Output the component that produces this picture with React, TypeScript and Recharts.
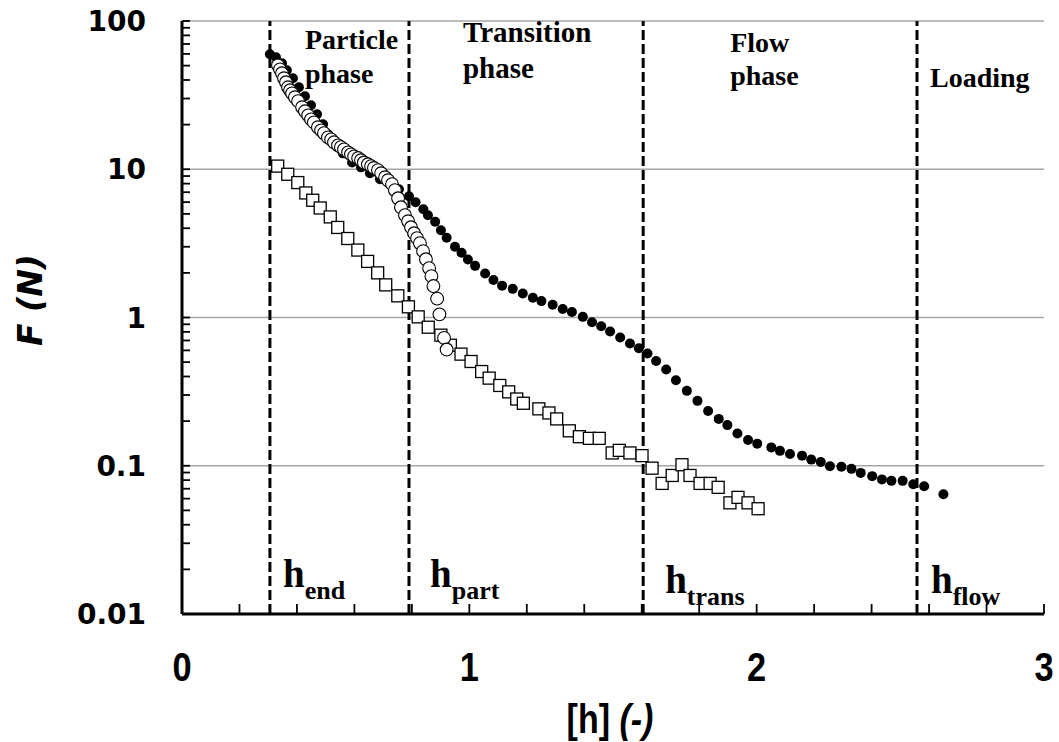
import {
  CartesianGrid,
  ReferenceLine,
  Scatter,
  ScatterChart,
  XAxis,
  YAxis,
} from "recharts";

// filled dots
const solidH = [
  0.306, 0.327, 0.348, 0.365, 0.386, 0.407, 0.428, 0.449, 0.47, 0.491, 0.508,
  0.526, 0.56, 0.592, 0.623, 0.654, 0.689, 0.724, 0.755, 0.79, 0.813, 0.84,
  0.856, 0.881, 0.901, 0.921, 0.95, 0.973, 0.995, 1.02, 1.055, 1.084, 1.114,
  1.151, 1.186, 1.221, 1.251, 1.29, 1.325, 1.357, 1.395, 1.427, 1.459, 1.49,
  1.525, 1.559, 1.59, 1.62, 1.65, 1.685, 1.719, 1.757, 1.794, 1.831, 1.868,
  1.898, 1.933, 1.97, 2.002, 2.051, 2.081, 2.116, 2.158, 2.19, 2.223, 2.255,
  2.295, 2.33, 2.362, 2.402, 2.436, 2.469, 2.508, 2.545, 2.583, 2.65,
];
const solidF = [
  59.6, 56.9, 51.9, 46.5, 41.1, 35.7, 31.1, 27.0, 23.5, 20.1, 17.2, 15.0, 12.8,
  11.1, 10.3, 9.4, 8.57, 7.93, 7.33, 6.58, 5.99, 5.37, 4.9, 4.43, 3.88, 3.45,
  3.0, 2.73, 2.46, 2.23, 1.98, 1.79, 1.64, 1.56, 1.45, 1.36, 1.29, 1.22, 1.14,
  1.09, 1.01, 0.929, 0.873, 0.805, 0.733, 0.668, 0.621, 0.572, 0.509, 0.446,
  0.377, 0.32, 0.274, 0.234, 0.207, 0.188, 0.165, 0.149, 0.141, 0.133, 0.126,
  0.12, 0.117, 0.11, 0.106, 0.0993, 0.0984, 0.0953, 0.0895, 0.0851, 0.0809,
  0.0791, 0.0791, 0.0751, 0.0728, 0.0643,
];

// open circles
const openH = [
  0.334, 0.341, 0.348, 0.355, 0.362, 0.369, 0.376, 0.383, 0.393, 0.404, 0.418,
  0.428, 0.439, 0.449, 0.459, 0.473, 0.484, 0.494, 0.508, 0.519, 0.529, 0.543,
  0.553, 0.564, 0.578, 0.588, 0.599, 0.613, 0.623, 0.633, 0.647, 0.658, 0.668,
  0.682, 0.693, 0.707, 0.717, 0.731, 0.741, 0.752, 0.762, 0.776, 0.787, 0.797,
  0.808, 0.818, 0.828, 0.839, 0.849, 0.86, 0.868, 0.875, 0.888, 0.896, 0.912,
  0.921,
];
const openF = [
  50.2, 47.2, 44.4, 41.1, 38.6, 35.7, 34.1, 32.5, 30.6, 28.8, 26.2, 24.6, 23.1,
  21.7, 20.7, 19.2, 18.3, 17.5, 16.4, 15.9, 15.2, 14.5, 14.1, 13.6, 13.0, 12.6,
  12.2, 11.9, 11.5, 11.1, 10.8, 10.5, 10.2, 9.85, 9.4, 8.83, 8.43, 7.93, 7.22,
  6.37, 5.54, 4.9, 4.46, 4.06, 3.7, 3.43, 3.17, 2.8, 2.47, 2.15, 1.9, 1.63,
  1.34, 1.05, 0.728, 0.608,
];

// open squares
const squareH = [
  0.333, 0.368, 0.403, 0.431, 0.455, 0.481, 0.516, 0.542, 0.577, 0.612, 0.646,
  0.681, 0.709, 0.751, 0.788, 0.822, 0.857, 0.901, 0.934, 0.971, 1.006, 1.043,
  1.069, 1.106, 1.137, 1.165, 1.188, 1.242, 1.277, 1.304, 1.348, 1.383, 1.418,
  1.452, 1.497, 1.522, 1.559, 1.601, 1.636, 1.671, 1.706, 1.74, 1.768, 1.803,
  1.838, 1.866, 1.907, 1.935, 1.97, 2.005,
];
const squareF = [
  10.5, 9.25, 8.13, 6.92, 6.18, 5.48, 4.77, 4.05, 3.41, 2.85, 2.39, 2.0, 1.66,
  1.4, 1.18, 1.01, 0.86, 0.76, 0.65, 0.566, 0.505, 0.432, 0.39, 0.348, 0.315,
  0.282, 0.264, 0.242, 0.227, 0.207, 0.172, 0.157, 0.153, 0.153, 0.122, 0.127,
  0.122, 0.117, 0.0963, 0.076, 0.086, 0.1016, 0.086, 0.076, 0.076, 0.0715,
  0.0562, 0.0612, 0.0562, 0.0513,
];

const boundaryH = [0.306, 0.79, 1.605, 2.558];
const boundaryNames = ["end", "part", "trans", "flow"];
const phaseNames = [
  ["Particle", "phase"],
  ["Transition", "phase"],
  ["Flow", "phase"],
  ["Loading"],
];

const xTicks = [0, 1, 2, 3];
const xMinorTicks = [
  0, 0.2, 0.4, 0.6, 0.8, 1, 1.2, 1.4, 1.6, 1.8, 2, 2.2, 2.4, 2.6, 2.8, 3,
];
const yTicks = [0.01, 0.1, 1, 10, 100];
const yMinorTicks = [
  0.01, 0.02, 0.03, 0.04, 0.05, 0.06, 0.07, 0.08, 0.09, 0.1, 0.2, 0.3, 0.4,
  0.5, 0.6, 0.7, 0.8, 0.9, 1, 2, 3, 4, 5, 6, 7, 8, 9, 10, 20, 30, 40, 50, 60,
  70, 80, 90, 100,
];

const toPoints = (hs: number[], fs: number[]) =>
  hs.map((h, i) => ({ h, f: fs[i] }));

const solidPts = toPoints(solidH, solidF);
const openPts = toPoints(openH, openF);
const squarePts = toPoints(squareH, squareF);

const SERIF = "'Liberation Serif', 'Times New Roman', serif";
const SANS = "'Liberation Sans', Arial, sans-serif";
const WIDE = "'DejaVu Sans', Verdana, sans-serif";

const Dot = (p: any) => <circle cx={p.cx} cy={p.cy} r={5} fill="#000" />;
const Ring = (p: any) => (
  <circle cx={p.cx} cy={p.cy} r={6.4} fill="#fff" stroke="#000" strokeWidth={1.1} />
);
const Box = (p: any) => (
  <rect
    x={p.cx - 6}
    y={p.cy - 6}
    width={12}
    height={12}
    fill="#fff"
    stroke="#000"
    strokeWidth={1.3}
  />
);

// inward tick marks, labels only on the major values
const XTick = (p: any) => {
  const v = p.payload.value;
  const showLabel = xTicks.includes(v);
  return (
    <g>
      {v > 0 && (
        <line x1={p.x} y1={p.y} x2={p.x} y2={p.y - 10} stroke="#000" strokeWidth={1.8} />
      )}
      {showLabel && (
        <text
          transform={`translate(${p.x} ${p.y + 38}) scale(0.86 1)`}
          textAnchor="middle"
          dy="0.72em"
          fontFamily={SANS}
          fontWeight="bold"
          fontSize={40}
          fill="#000"
        >
          {v}
        </text>
      )}
    </g>
  );
};

const YTick = (p: any) => {
  const v = p.payload.value;
  const showLabel = yTicks.includes(v);
  return (
    <g>
      {v > 0.01 && (
        <line x1={p.x} y1={p.y} x2={p.x + 8} y2={p.y} stroke="#000" strokeWidth={1.8} />
      )}
      {showLabel && (
        <text
          x={p.x - 36}
          y={p.y}
          dy="0.36em"
          textAnchor="end"
          fontFamily={WIDE}
          fontWeight="bold"
          fontSize={28}
          fill="#000"
        >
          {String(v)}
        </text>
      )}
    </g>
  );
};

// text offsets next to each dashed line
const phaseDx = [35, 54, 87, 13];
const phaseSize = [28, 29, 28, 28];
const phaseBase = [
  [28, 62],
  [21, 57],
  [31, 64],
  [66],
];
const hDx = [13, 21, 22, 14];
const hBase = [-27, -27, -21, -21];

function boundaryLabel(i: number) {
  return (props: any) => {
    const vb = props.viewBox;
    if (!vb) return null;
    const x = vb.x;
    const top = vb.y;
    const bottom = vb.y + vb.height;
    return (
      <g>
        {phaseNames[i].map((t, k) => (
          <text
            key={k}
            x={x + phaseDx[i]}
            y={top + phaseBase[i][k]}
            fontFamily={SERIF}
            fontWeight="bold"
            fontSize={phaseSize[i]}
            fill="#000"
          >
            {t}
          </text>
        ))}
        <text
          x={x + hDx[i]}
          y={bottom + hBase[i]}
          fontFamily={SERIF}
          fontWeight="bold"
          fontSize={39}
          fill="#000"
        >
          h
          <tspan fontSize={26} dy={12}>
            {boundaryNames[i]}
          </tspan>
        </text>
      </g>
    );
  };
}

const XTitle = (props: any) => {
  const vb = props.viewBox;
  if (!vb) return null;
  const cx = vb.x + vb.width / 2 - 3;
  return (
    <text
      transform={`translate(${cx} ${vb.y + 119}) scale(0.85 1)`}
      textAnchor="middle"
      fontFamily={SANS}
      fontWeight="bold"
      fontSize={40}
      fill="#000"
    >
      [h] <tspan fontStyle="italic">(-)</tspan>
    </text>
  );
};

const YTitle = (props: any) => {
  const vb = props.viewBox;
  if (!vb) return null;
  const cx = vb.x + 10;
  const cy = vb.y + 279;
  return (
    <text
      x={cx}
      y={cy}
      transform={`rotate(-90 ${cx} ${cy})`}
      textAnchor="middle"
      fontFamily={WIDE}
      fontWeight="bold"
      fontStyle="italic"
      fontSize={33}
      fill="#000"
    >
      F (N)
    </text>
  );
};

export default function App() {
  return (
    <div
      style={{
        position: "absolute",
        left: 0,
        top: 0,
        width: 1059,
        height: 742,
        background: "#fff",
      }}
    >
      <ScatterChart
        width={1059}
        height={742}
        margin={{ top: 21, right: 15, bottom: 68, left: 32 }}
      >
        <CartesianGrid
          vertical={false}
          stroke="#a6a6a6"
          strokeWidth={1.3}
          horizontalValues={yTicks}
        />
        <XAxis
          dataKey="h"
          type="number"
          domain={[0, 3]}
          ticks={xMinorTicks}
          interval={0}
          allowDataOverflow
          height={60}
          tickLine={false}
          tickSize={0}
          tickMargin={0}
          axisLine={{ stroke: "#000", strokeWidth: 3 }}
          tick={<XTick />}
          label={<XTitle />}
        />
        <YAxis
          dataKey="f"
          type="number"
          scale="log"
          domain={[0.01, 100]}
          ticks={yMinorTicks}
          interval={0}
          allowDataOverflow
          width={150}
          tickLine={false}
          tickSize={0}
          tickMargin={0}
          axisLine={{ stroke: "#000", strokeWidth: 3 }}
          tick={<YTick />}
          label={<YTitle />}
        />
        {boundaryH.map((h, i) => (
          <ReferenceLine
            key={h}
            x={h}
            stroke="#000"
            strokeWidth={3}
            strokeDasharray="10 4"
            label={boundaryLabel(i)}
          />
        ))}
        <Scatter data={squarePts} shape={Box} isAnimationActive={false} />
        <Scatter data={solidPts} shape={Dot} isAnimationActive={false} />
        <Scatter data={openPts} shape={Ring} isAnimationActive={false} />
      </ScatterChart>
    </div>
  );
}
